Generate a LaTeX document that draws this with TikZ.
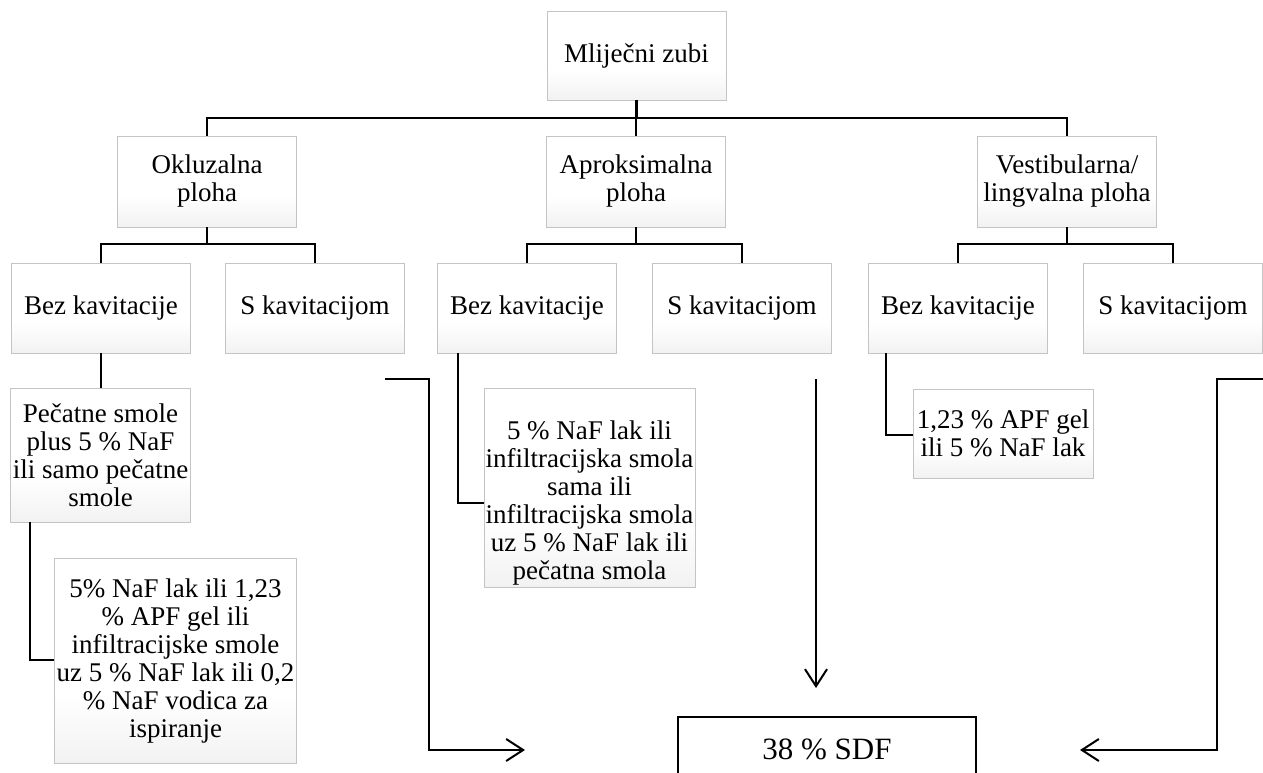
\documentclass[tikz,border=0pt]{standalone}
\usepackage{fontspec}
\setmainfont{Liberation Serif}
\usetikzlibrary{arrows.meta}
\definecolor{boxline}{HTML}{C4C4C4}
\pgfdeclareverticalshading{bevel}{100bp}{color(0bp)=(black!13); color(12bp)=(black!9); color(42bp)=(white); color(100bp)=(white)}
\begin{document}
\begin{tikzpicture}[x=1pt,y=-1pt,
  box/.style={draw=boxline, line width=0.9pt, shading=bevel,
    align=center, inner sep=2pt, font=\fontsize{27}{28}\selectfont, minimum width=179pt, minimum height=90pt},
  txt/.style={align=center, inner sep=0pt, font=\fontsize{27}{28}\selectfont},
  tree/.style={line width=2.2pt, black},
  arr/.style={line width=2pt, black, -{Straight Barb[length=17pt,width=22pt,line width=2pt]}}]
\useasboundingbox (0,0) rectangle (1263,773);
\begin{scope}
\clip (0,0) rectangle (1263,773);
% level 1
\node[box, minimum height=89pt] (mz) at (636.5,55.5) {Mliječni zubi};
% level 2
\node[box, minimum height=91pt] (ok) at (207,181.5) {Okluzalna\\ploha};
\node[box, minimum height=91pt] (ap) at (636,181.5) {Aproksimalna\\ploha};
\node[box, minimum height=91pt] (ve) at (1067,181.5) {Vestibularna/\\lingvalna ploha};
% level 3
\node[box] (okb) at (101,308) {Bez kavitacije};
\node[box] (oks) at (315,308) {S kavitacijom};
\node[box] (apb) at (527,308) {Bez kavitacije};
\node[box] (aps) at (742,308) {S kavitacijom};
\node[box] (veb) at (958,308) {Bez kavitacije};
\node[box] (ves) at (1173,308) {S kavitacijom};
% treatments
\node[box, minimum width=177pt, minimum height=134pt] (pe) at (100.5,455) {Pečatne smole\\plus 5 \% NaF\\ili samo pečatne\\smole};
\node[box, minimum width=241pt, minimum height=205pt] (fi) at (175.5,660.5) {5\% NaF lak ili 1,23\\\% APF gel ili\\infiltracijske smole\\uz 5 \% NaF lak ili 0,2\\\% NaF vodica za\\ispiranje};
\node[box, minimum width=211pt, minimum height=199pt] (mi) at (589.5,487.5) {};
\node[txt] (mit) at (589.5,503) {5 \% NaF lak ili\\infiltracijska smola\\sama ili\\infiltracijska smola\\uz 5 \% NaF lak ili\\pečatna smola};
\node[box, minimum width=180pt, minimum height=89pt] (apf) at (1003,433.5) {1,23 \% APF gel\\ili 5 \% NaF lak};
% SDF box (cut at bottom)
\draw[line width=2pt] (678,800) -- (678,717) -- (976,717) -- (976,800);
\node[txt, font=\fontsize{31}{32}\selectfont] (sdf) at (827,749) {38 \% SDF};
% tree connectors
\coordinate (j1) at (636,118);
\draw[tree] (mz.south) -- (mz.south |- j1);
\draw[tree] (ok.north) |- (ve.north |- j1) -- (ve.north);
\draw[tree] (ap.north |- j1) -- (ap.north);
\coordinate (j2) at (207,244);
\draw[tree] (ok.south) -- (j2);
\draw[tree] (okb.north) |- (oks.north |- j2) -- (oks.north);
\coordinate (j3) at (636,244);
\draw[tree] (ap.south) -- (j3);
\draw[tree] (apb.north) |- (aps.north |- j3) -- (aps.north);
\coordinate (j4) at (1067,244);
\draw[tree] (ve.south) -- (j4);
\draw[tree] (veb.north) |- (ves.north |- j4) -- (ves.north);
% hanging connectors
\draw[tree] (okb.south) -- (okb.south |- pe.north);
\draw[tree] (30,522) |- (fi.west |- 0,660);
\draw[tree] (458,353) |- (mi.west |- 0,503);
\draw[tree] (886,353) |- (apf.west |- 0,435);
% arrows to SDF
\coordinate (s1) at (385,379);
\coordinate (e1) at (525,750);
\draw[arr] (s1) -- (429,379) |- (e1);
\coordinate (s2) at (816,379);
\coordinate (e2) at (816,688);
\draw[arr] (s2) -- (e2);
\coordinate (s3) at (1263,379);
\coordinate (e3) at (1080,750);
\draw[arr] (s3) -- (1217,379) |- (e3);
\end{scope}
\end{tikzpicture}
\end{document}
